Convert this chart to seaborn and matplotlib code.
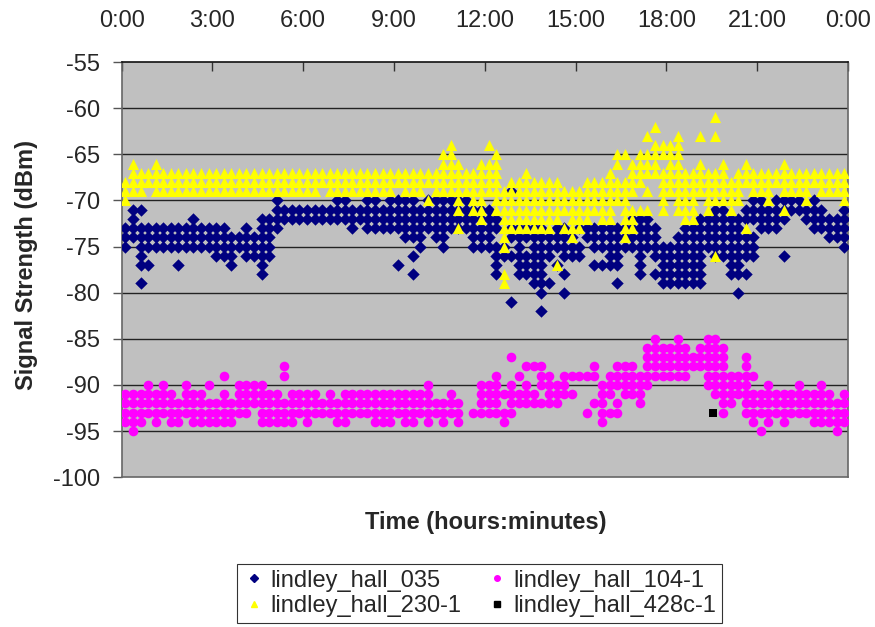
import numpy as np
import pandas as pd
import matplotlib.pyplot as plt
import seaborn as sns

# Readings in 15 minute slots (96 per day).
# For every dBm level the string lists the slots that hold a reading.
SLOT_HOURS = 0.25

hall_035 = {
    -69: "51",
    -70: "20,28-29,32-33,35-38,40-45,83-84,86-89,91",
    -71: "1-2,20-48,78-79,82-92,95",
    -72: "1,9,18-49,67-69,76-87,90-95",
    -73: "0-13,16,18-20,30,32-49,51-55,57-58,60-70,74-81,84-86,91-95",
    -74: "0-19,37-39,41-42,46-48,51-59,61-70,73-83,93-95",
    -75: "0,2-19,39,42,46-50,52,54-60,62-83,95",
    -76: "2,12-14,16-19,38,49-56,58-60,64-65,68,70-76,78-83,87",
    -77: "2-3,7,14,18,36,49,52-55,57,62-65,68,71-76,80-81",
    -78: "18,38,49,52-55,58,68,70-76,80-82",
    -79: "2,54-56,65,71-76",
    -80: "55,58,81",
    -81: "51",
    -82: "55",
}

hall_230 = {
    -61: "78",
    -62: "70",
    -63: "69,73,76,78",
    -64: "43,48,70-73",
    -65: "42-43,49,65-66,68-73",
    -66: "1,4,42-44,47-49,65,67-70,72-73,76,79,82,87",
    -67: "1-49,53,64,67-79,81-95",
    -68: "0-49,51-57,61-68,71-95",
    -69: "0-2,4-6,7-10,11-20,21-25,27-35,37-39,41-67,69,71-81,83-85,87-90,92-95",
    -70: "0,40,44,46-47,49-66,71,73-75,77-81,85,90,95",
    -71: "44,46-47,49-64,66-69,71,73-75,77,80,87",
    -72: "47,50-57,59-61,63-64,66-67,74-75",
    -73: "44,50-56,58-60,66-67,82",
    -74: "50,59,66",
    -75: "50",
    -76: "78",
    -77: "57",
    -78: "50",
    -79: "50",
}

hall_104 = {
    -85: "70,73,77-78",
    -86: "69-74,76-79",
    -87: "51,69-79,82",
    -88: "21,53-55,62,65-67,69-79,82",
    -89: "13,21,49,52,55-56,58-62,64-74,77-83",
    -90: "3,5,8,11,15-18,40,47-49,51,53,55-58,63-69,77-82,85,89,92",
    -91: "0-6,8-10,13,15-20,22-25,27,29-40,43,47-54,56-59,63-64,66-68,78-84,85-93,95",
    -92: "0-44,47-49,51-57,62-63,65,68,79-80,82-95",
    -93: "0-16,18-44,46-51,61,63-65,79,82-95",
    -94: "0-2,4,6-7,9-14,18-22,24,28-29,33-35,37-38,40,42,44,50,63,83,85,87,91-95",
    -95: "1,84,94",
}

# single reading of the fourth access point (19:33, -93 dBm)
hall_428_time = [19.55]
hall_428_dbm = [-93]

names = ["lindley_hall_035", "lindley_hall_104-1", "lindley_hall_230-1", "lindley_hall_428c-1"]
colors = ["#000080", "#FF00FF", "#FFFF00", "#000000"]
markers = ["D", "o", "^", "s"]
sizes = [40, 48, 64, 30]

hour_ticks = [0, 3, 6, 9, 12, 15, 18, 21, 24]
hour_labels = ["0:00", "3:00", "6:00", "9:00", "12:00", "15:00", "18:00", "21:00", "0:00"]


def expand(levels, name):
    rows = []
    for dbm, spec in levels.items():
        for part in spec.split(","):
            a, _, b = part.partition("-")
            lo = int(a)
            hi = int(b) if b else lo
            for slot in range(lo, hi + 1):
                rows.append(((slot + 0.5) * SLOT_HOURS, dbm, name))
    return pd.DataFrame(rows, columns=["time", "dbm", "ap"])


df = pd.concat([
    expand(hall_035, names[0]),
    expand(hall_104, names[1]),
    expand(hall_230, names[2]),
    pd.DataFrame({"time": hall_428_time, "dbm": hall_428_dbm, "ap": names[3]}),
], ignore_index=True)

sns.set_style("white")
plt.rcParams["font.family"] = ["Liberation Sans", "DejaVu Sans"]
plt.rcParams["axes.unicode_minus"] = False

fig = plt.figure(figsize=(8.75, 6.27), dpi=100)
ax = fig.add_axes([0.139, 0.239, 0.830, 0.662])
ax.set_facecolor("#C0C0C0")

handles = {}
for name, col, mk, s in zip(names, colors, markers, sizes):
    sub = df[df["ap"] == name]
    sns.scatterplot(data=sub, x="time", y="dbm", marker=mk, color=col, s=s,
                    linewidth=0, ax=ax, legend=False, zorder=3)
    handles[name] = plt.Line2D([], [], linestyle="none", marker=mk, color=col,
                               markersize=4 if mk != "^" else 5)

ax.set_xlim(0, 24)
ax.set_ylim(-100, -55)
ax.set_yticks(range(-100, -54, 5))
ax.set_xticks(hour_ticks)
ax.set_xticklabels(hour_labels)
ax.xaxis.tick_top()
ax.tick_params(axis="x", direction="in", length=6.5, width=1, color="#333333",
               pad=22, labelsize=17)
ax.tick_params(axis="y", direction="out", length=6.5, width=1, color="#555555",
               pad=9, labelsize=17, left=True)
ax.set_xlabel("")
ax.set_ylabel("")
for y in range(-95, -55, 5):
    ax.axhline(y, color="#222222", lw=1, zorder=1)
for side in ax.spines.values():
    side.set_color("#666666")
    side.set_linewidth(1.2)
ax.spines["top"].set_color("#111111")

fig.text(0.030, 1 - 265 / 627, "Signal Strength (dBm)", rotation=90,
         ha="center", va="center", fontsize=17, fontweight="bold")
fig.text(0.555, 1 - 523 / 627, "Time (hours:minutes)", ha="center",
         va="center", fontsize=17, fontweight="bold")

order = [names[0], names[2], names[1], names[3]]
leg = fig.legend([handles[n] for n in order], order, ncol=2, loc="upper center",
                 bbox_to_anchor=(0.548, 1 - 552 / 627), fontsize=17,
                 frameon=True, fancybox=False, edgecolor="#000000",
                 handletextpad=0.2, columnspacing=1.0, labelspacing=0.15,
                 borderpad=0.25, handlelength=1.0)
leg.get_frame().set_linewidth(0.8)

fig.savefig("out.png", dpi=100, facecolor="white")
